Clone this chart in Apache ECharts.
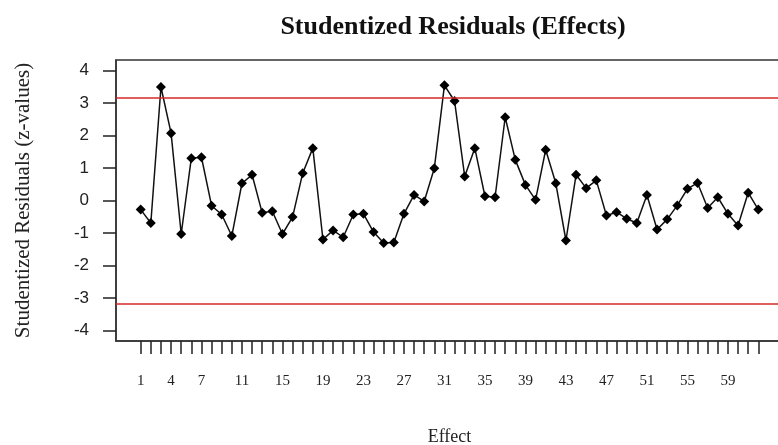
<!DOCTYPE html>
<html>
<head>
<meta charset="utf-8">
<script src="https://cdn.jsdelivr.net/npm/echarts@6/dist/echarts.min.js"></script>
<style>html,body{margin:0;padding:0;background:#fff;}#c{width:778px;height:445px;}</style>
</head>
<body>
<div id="c"></div>
<script>
var effects = [1,2,3,4,5,6,7,8,9,10,11,12,13,14,15,16,17,18,19,20,21,22,23,24,25,26,27,28,29,30,31,32,33,34,35,36,37,38,39,40,41,42,43,44,45,46,47,48,49,50,51,52,53,54,55,56,57,58,59,60,61,62];
var residuals = [-0.28,-0.69,3.49,2.07,-1.03,1.30,1.33,-0.16,-0.43,-1.09,0.53,0.79,-0.38,-0.33,-1.03,-0.51,0.84,1.61,-1.20,-0.92,-1.13,-0.43,-0.41,-0.97,-1.31,-1.29,-0.41,0.17,-0.03,0.99,3.54,3.06,0.74,1.61,0.13,0.10,2.56,1.25,0.48,0.02,1.56,0.53,-1.23,0.79,0.38,0.62,-0.46,-0.36,-0.56,-0.69,0.17,-0.89,-0.58,-0.15,0.36,0.54,-0.23,0.10,-0.41,-0.77,0.24,-0.28];
var xTickLabels = [1,4,7,11,15,19,23,27,31,35,39,43,47,51,55,59];
var yTickLabels = [-4,-3,-2,-1,0,1,2,3,4];
var criticalLimits = [3.17,-3.17];

var chart = echarts.init(document.getElementById('c'), null, {renderer:'canvas'});
var pts = effects.map(function(e,i){return [e, residuals[i]];});
chart.setOption({
  animation:false,
  backgroundColor:'#fff',
  title:{text:'Studentized Residuals (Effects)', left:448, top:9, textAlign:'center',
    textStyle:{fontFamily:'Liberation Serif', fontWeight:'bold', fontSize:26, color:'#111'}},
  grid:{left:116, top:60, width:667, height:281, show:true, borderColor:'#333', borderWidth:1.5,
    backgroundColor:'transparent', outerBoundsMode:'none', containLabel:false},
  xAxis:{type:'value', min:-1.44, max:64.44,
    name:'Effect', nameLocation:'middle', nameGap:87,
    nameTextStyle:{fontFamily:'Liberation Serif', fontSize:18, color:'#222'},
    axisLine:{show:true, onZero:false, lineStyle:{color:'#333', width:1.5}},
    axisTick:{show:true, length:13, customValues:effects, lineStyle:{color:'#222', width:1.5}},
    axisLabel:{customValues:xTickLabels, margin:33, fontFamily:'Liberation Serif', fontSize:15, color:'#222'},
    splitLine:{show:false}},
  yAxis:{type:'value', min:-4.32, max:4.32,
    name:'Studentized Residuals (z-values)', nameLocation:'middle', nameGap:82, nameRotate:90,
    nameTextStyle:{fontFamily:'Liberation Serif', fontSize:21, color:'#222'},
    axisLine:{show:true, onZero:false, lineStyle:{color:'#333', width:1.5}},
    axisTick:{show:true, length:13, customValues:yTickLabels, lineStyle:{color:'#222', width:1.5}},
    axisLabel:{customValues:yTickLabels, margin:27, fontFamily:'Liberation Sans', fontSize:17, color:'#222'},
    splitLine:{show:false}},
  series:[{type:'line', data:pts, symbol:'diamond', symbolSize:10,
    itemStyle:{color:'#000'}, lineStyle:{color:'#111', width:1.5},
    markLine:{silent:true, symbol:'none', label:{show:false},
      lineStyle:{color:'#d42a2a', width:1.5, type:'solid'},
      data:criticalLimits.map(function(v){return {yAxis:v};})}
  }]
});
</script>
</body>
</html>
